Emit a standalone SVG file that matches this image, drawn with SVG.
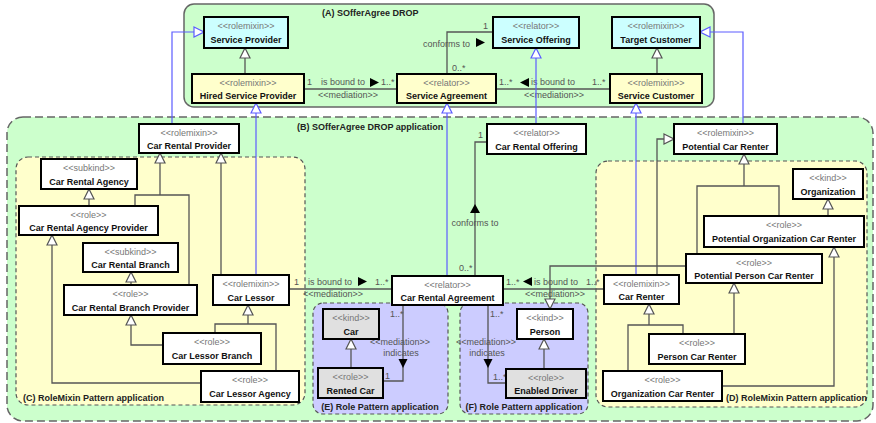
<svg xmlns="http://www.w3.org/2000/svg" width="876" height="423" viewBox="0 0 876 423">
  <style>
    .pkgA { fill: #ccffcc; stroke: #666; stroke-width: 1.5; }
    .pkgB { fill: #ccffcc; stroke: #666; stroke-width: 1.5; stroke-dasharray: 8 4; }
    .pkgY { fill: #ffffcc; stroke: #555; stroke-width: 1.2; stroke-dasharray: 4 3; }
    .pkgP { fill: #ccccff; stroke: #555; stroke-width: 1.2; stroke-dasharray: 4 3; }
    .plabel { font-family: "Liberation Sans", Arial, sans-serif; font-size: 9px; font-weight: bold; fill: #222; }
    .box { stroke: #000; stroke-width: 2; }
    .cyan { fill: #ccffff; }
    .yel { fill: #ffffcc; }
    .wht { fill: #ffffff; }
    .gry { fill: #e0e0e0; }
    .st { font-family: "Liberation Sans", Arial, sans-serif; font-size: 9px; fill: #777; text-anchor: middle; }
    .nm { font-family: "Liberation Sans", Arial, sans-serif; font-size: 9px; font-weight: bold; fill: #111; text-anchor: middle; }
    .ln { fill: none; stroke: #555; stroke-width: 1.3; }
    .bl { fill: none; stroke: #5c5cff; stroke-width: 1.2; }
    .lbl { font-family: "Liberation Sans", Arial, sans-serif; font-size: 9px; fill: #555; }
    .mid { text-anchor: middle; }
    .dir { fill: #000; }
  </style>
  <defs>
    <marker id="gen" viewBox="0 0 12 12" refX="11" refY="6" markerWidth="12" markerHeight="12" markerUnits="userSpaceOnUse" orient="auto">
      <path d="M1,1 L11,6 L1,11 z" fill="#fff" stroke="#555" stroke-width="1.2"/>
    </marker>
    <marker id="genb" viewBox="0 0 12 12" refX="11" refY="6" markerWidth="12" markerHeight="12" markerUnits="userSpaceOnUse" orient="auto">
      <path d="M1,1 L11,6 L1,11 z" fill="#fff" stroke="#5c5cff" stroke-width="1.2"/>
    </marker>
  </defs>

  <!-- packages -->
  <g id="packages">
    <rect class="pkgB" x="7" y="117" width="866" height="304" rx="16"/>
    <rect class="pkgA" x="184" y="4" width="530" height="103" rx="10"/>
    <rect class="pkgY" x="16" y="157" width="289" height="248" rx="12"/>
    <rect class="pkgY" x="596" y="161" width="271" height="246" rx="12"/>
    <rect class="pkgP" x="313" y="303" width="135" height="111" rx="10"/>
    <rect class="pkgP" x="460" y="303" width="128" height="111" rx="10"/>
    <text class="plabel" x="322" y="16">(A) SOfferAgree DROP</text>
    <text class="plabel" x="297" y="130">(B) SOfferAgree DROP application</text>
    <text class="plabel" x="23" y="401">(C) RoleMixin Pattern application</text>
    <text class="plabel" x="726" y="401">(D) RoleMixin Pattern application</text>
    <text class="plabel mid" x="380" y="410" text-anchor="middle">(E) Role Pattern application</text>
    <text class="plabel mid" x="524" y="410" text-anchor="middle">(F) Role Pattern application</text>
  </g>

  <!-- connectors -->
  <g id="connectors">
    <!-- DROP generalizations and associations -->
    <path class="ln" d="M245,74 V48" marker-end="url(#gen)"/>
    <path class="ln" d="M657,74 V48" marker-end="url(#gen)"/>
    <path class="ln" d="M304,89 H397"/>
    <path class="ln" d="M496,89 H610"/>
    <path class="ln" d="M447,74 V32 H493"/>
    <text class="lbl" x="307" y="85">1</text>
    <text class="lbl" x="321" y="85">is bound to</text>
    <polygon class="dir" points="370,78 379,82.5 370,87"/>
    <text class="lbl" x="381" y="85">1..*</text>
    <text class="lbl" x="318" y="98">&lt;&lt;mediation&gt;&gt;</text>
    <text class="lbl" x="499" y="85">1..*</text>
    <polygon class="dir" points="529,78 520,82.5 529,87"/>
    <text class="lbl" x="531" y="85">is bound to</text>
    <text class="lbl" x="592" y="85">1..*</text>
    <text class="lbl" x="524" y="98">&lt;&lt;mediation&gt;&gt;</text>
    <text class="lbl" x="483" y="29">1</text>
    <text class="lbl" x="423" y="47">conforms to</text>
    <polygon class="dir" points="476,38 485,42.5 476,47"/>
    <text class="lbl" x="452" y="71">0..*</text>

    <!-- specializations of the DROP (blue) -->
    <path class="bl" d="M172,124 V32 H204" marker-end="url(#genb)"/>
    <path class="bl" d="M256,275 V103" marker-end="url(#genb)"/>
    <path class="bl" d="M447,276 V103" marker-end="url(#genb)"/>
    <path class="bl" d="M536,124 V48" marker-end="url(#genb)"/>
    <path class="bl" d="M636,275 V103" marker-end="url(#genb)"/>
    <path class="bl" d="M743,124 V32 H700" marker-end="url(#genb)"/>

    <!-- (C) provider side -->
    <path class="ln" d="M89,206 V189" marker-end="url(#gen)"/>
    <path class="ln" d="M135,206 V195 H189 V285"/>
    <path class="ln" d="M160,195 V153" marker-end="url(#gen)"/>
    <path class="ln" d="M131,285 V272" marker-end="url(#gen)"/>
    <path class="ln" d="M221,275 V153" marker-end="url(#gen)"/>
    <path class="ln" d="M163,345 H131 V315" marker-end="url(#gen)"/>
    <path class="ln" d="M215,333 V324 H276 V371"/>
    <path class="ln" d="M248,324 V305" marker-end="url(#gen)"/>
    <path class="ln" d="M201,383 H52 V235" marker-end="url(#gen)"/>

    <!-- Car Lessor to Car Rental Agreement -->
    <path class="ln" d="M289,289 H392"/>
    <text class="lbl" x="294" y="285">1</text>
    <text class="lbl" x="308" y="285">is bound to</text>
    <polygon class="dir" points="358,277 367,281.5 358,286"/>
    <text class="lbl" x="375" y="285">1..*</text>
    <text class="lbl" x="303" y="297">&lt;&lt;mediation&gt;&gt;</text>

    <!-- Car Rental Agreement to Car Renter -->
    <path class="ln" d="M503,289 H604"/>
    <text class="lbl" x="506" y="285">1..*</text>
    <polygon class="dir" points="532,277 523,281.5 532,286"/>
    <text class="lbl" x="534" y="285">is bound to</text>
    <text class="lbl" x="586" y="285">1..*</text>
    <text class="lbl" x="525" y="297">&lt;&lt;mediation&gt;&gt;</text>

    <!-- conforms to -->
    <path class="ln" d="M475,276 V142 H487"/>
    <text class="lbl" x="478" y="138">1</text>
    <polygon class="dir" points="475,204 480,213 470,213"/>
    <text class="lbl mid" x="475" y="226" text-anchor="middle">conforms to</text>
    <text class="lbl" x="459" y="271">0..*</text>

    <!-- (E) -->
    <path class="ln" d="M351,368 V339" marker-end="url(#gen)"/>
    <path class="ln" d="M403,305 V381 H383"/>
    <polygon class="dir" points="398.5,359 407.5,359 403,368"/>
    <text class="lbl" x="390" y="317">1..*</text>
    <text class="lbl" x="385" y="379">1</text>
    <text class="lbl" x="400" y="345" text-anchor="middle">&lt;&lt;mediation&gt;&gt;</text>
    <text class="lbl" x="401" y="356" text-anchor="middle">indicates</text>

    <!-- (F) -->
    <path class="ln" d="M544,369 V339" marker-end="url(#gen)"/>
    <path class="ln" d="M488,305 V383 H506"/>
    <polygon class="dir" points="483.5,359 492.5,359 488,368"/>
    <text class="lbl" x="490" y="317">1..*</text>
    <text class="lbl" x="493" y="380">1..*</text>
    <text class="lbl" x="486" y="345" text-anchor="middle">&lt;&lt;mediation&gt;&gt;</text>
    <text class="lbl" x="487" y="356" text-anchor="middle">indicates</text>

    <!-- (D) renter side -->
    <path class="ln" d="M686,266 H550 V309" marker-end="url(#gen)"/>
    <path class="ln" d="M657,275 V139 H674" marker-end="url(#gen)"/>
    <path class="ln" d="M828,216 V199" marker-end="url(#gen)"/>
    <path class="ln" d="M697,254 V186 H779 V216"/>
    <path class="ln" d="M744,186 V154" marker-end="url(#gen)"/>
    <path class="ln" d="M734,334 V283" marker-end="url(#gen)"/>
    <path class="ln" d="M722,386 H834 V247" marker-end="url(#gen)"/>
    <path class="ln" d="M628,371 V325 H683 V334"/>
    <path class="ln" d="M649,325 V304" marker-end="url(#gen)"/>
  </g>

  <!-- (A) DROP nodes -->
  <g id="service-provider">
    <rect class="box cyan" x="204" y="17" width="84" height="31"/>
    <text class="st" x="246" y="29">&lt;&lt;rolemixin&gt;&gt;</text>
    <text class="nm" x="246" y="43">Service Provider</text>
  </g>
  <g id="service-offering">
    <rect class="box cyan" x="493" y="17" width="86" height="31"/>
    <text class="st" x="536" y="29">&lt;&lt;relator&gt;&gt;</text>
    <text class="nm" x="536" y="43">Service Offering</text>
  </g>
  <g id="target-customer">
    <rect class="box cyan" x="612" y="17" width="88" height="31"/>
    <text class="st" x="656" y="29">&lt;&lt;rolemixin&gt;&gt;</text>
    <text class="nm" x="656" y="43">Target Customer</text>
  </g>
  <g id="hired-service-provider">
    <rect class="box yel" x="192" y="74" width="112" height="29"/>
    <text class="st" x="248" y="86">&lt;&lt;rolemixin&gt;&gt;</text>
    <text class="nm" x="248" y="99">Hired Service Provider</text>
  </g>
  <g id="service-agreement">
    <rect class="box yel" x="397" y="74" width="99" height="29"/>
    <text class="st" x="446.5" y="86">&lt;&lt;relator&gt;&gt;</text>
    <text class="nm" x="446.5" y="99">Service Agreement</text>
  </g>
  <g id="service-customer">
    <rect class="box yel" x="610" y="74" width="92" height="29"/>
    <text class="st" x="656" y="86">&lt;&lt;rolemixin&gt;&gt;</text>
    <text class="nm" x="656" y="99">Service Customer</text>
  </g>

  <!-- (B)/(C) nodes -->
  <g id="car-rental-provider">
    <rect class="box wht" x="139" y="124" width="100" height="29"/>
    <text class="st" x="189" y="136">&lt;&lt;rolemixin&gt;&gt;</text>
    <text class="nm" x="189" y="149">Car Rental Provider</text>
  </g>
  <g id="car-rental-agency">
    <rect class="box wht" x="41" y="159" width="96" height="30"/>
    <text class="st" x="89" y="171">&lt;&lt;subkind&gt;&gt;</text>
    <text class="nm" x="89" y="185">Car Rental Agency</text>
  </g>
  <g id="car-rental-agency-provider">
    <rect class="box wht" x="19" y="206" width="139" height="29"/>
    <text class="st" x="88.5" y="218">&lt;&lt;role&gt;&gt;</text>
    <text class="nm" x="88.5" y="231">Car Rental Agency Provider</text>
  </g>
  <g id="car-rental-branch">
    <rect class="box wht" x="83" y="243" width="95" height="29"/>
    <text class="st" x="130.5" y="255">&lt;&lt;subkind&gt;&gt;</text>
    <text class="nm" x="130.5" y="268">Car Rental Branch</text>
  </g>
  <g id="car-rental-branch-provider">
    <rect class="box wht" x="64" y="285" width="133" height="30"/>
    <text class="st" x="130.5" y="297">&lt;&lt;role&gt;&gt;</text>
    <text class="nm" x="130.5" y="311">Car Rental Branch Provider</text>
  </g>
  <g id="car-lessor">
    <rect class="box wht" x="213" y="275" width="76" height="30"/>
    <text class="st" x="251" y="287">&lt;&lt;rolemixin&gt;&gt;</text>
    <text class="nm" x="251" y="301">Car Lessor</text>
  </g>
  <g id="car-lessor-branch">
    <rect class="box wht" x="163" y="333" width="98" height="31"/>
    <text class="st" x="212" y="345">&lt;&lt;role&gt;&gt;</text>
    <text class="nm" x="212" y="359">Car Lessor Branch</text>
  </g>
  <g id="car-lessor-agency">
    <rect class="box wht" x="201" y="371" width="98" height="31"/>
    <text class="st" x="250" y="383">&lt;&lt;role&gt;&gt;</text>
    <text class="nm" x="250" y="397">Car Lessor Agency</text>
  </g>

  <!-- (B) relators -->
  <g id="car-rental-offering">
    <rect class="box wht" x="487" y="124" width="99" height="30"/>
    <text class="st" x="536.5" y="136">&lt;&lt;relator&gt;&gt;</text>
    <text class="nm" x="536.5" y="150">Car Rental Offering</text>
  </g>
  <g id="car-rental-agreement">
    <rect class="box wht" x="392" y="276" width="111" height="29"/>
    <text class="st" x="447.5" y="288">&lt;&lt;relator&gt;&gt;</text>
    <text class="nm" x="447.5" y="301">Car Rental Agreement</text>
  </g>

  <!-- (E) nodes -->
  <g id="car">
    <rect class="box gry" x="323" y="309" width="56" height="30"/>
    <text class="st" x="351" y="321">&lt;&lt;kind&gt;&gt;</text>
    <text class="nm" x="351" y="335">Car</text>
  </g>
  <g id="rented-car">
    <rect class="box gry" x="318" y="368" width="65" height="30"/>
    <text class="st" x="350.5" y="380">&lt;&lt;role&gt;&gt;</text>
    <text class="nm" x="350.5" y="394">Rented Car</text>
  </g>

  <!-- (F) nodes -->
  <g id="person">
    <rect class="box wht" x="517" y="309" width="56" height="30"/>
    <text class="st" x="545" y="321">&lt;&lt;kind&gt;&gt;</text>
    <text class="nm" x="545" y="335">Person</text>
  </g>
  <g id="enabled-driver">
    <rect class="box gry" x="506" y="369" width="80" height="29"/>
    <text class="st" x="546" y="381">&lt;&lt;role&gt;&gt;</text>
    <text class="nm" x="546" y="394">Enabled Driver</text>
  </g>

  <!-- (B)/(D) nodes -->
  <g id="potential-car-renter">
    <rect class="box wht" x="674" y="124" width="103" height="30"/>
    <text class="st" x="725.5" y="136">&lt;&lt;rolemixin&gt;&gt;</text>
    <text class="nm" x="725.5" y="150">Potential Car Renter</text>
  </g>
  <g id="organization">
    <rect class="box wht" x="793" y="169" width="70" height="30"/>
    <text class="st" x="828" y="181">&lt;&lt;kind&gt;&gt;</text>
    <text class="nm" x="828" y="195">Organization</text>
  </g>
  <g id="potential-organization-car-renter">
    <rect class="box wht" x="704" y="216" width="160" height="31"/>
    <text class="st" x="784" y="228">&lt;&lt;role&gt;&gt;</text>
    <text class="nm" x="784" y="242">Potential Organization Car Renter</text>
  </g>
  <g id="potential-person-car-renter">
    <rect class="box wht" x="686" y="254" width="136" height="29"/>
    <text class="st" x="754" y="266">&lt;&lt;role&gt;&gt;</text>
    <text class="nm" x="754" y="279">Potential Person Car Renter</text>
  </g>
  <g id="car-renter">
    <rect class="box wht" x="604" y="275" width="75" height="29"/>
    <text class="st" x="641.5" y="287">&lt;&lt;rolemixin&gt;&gt;</text>
    <text class="nm" x="641.5" y="300">Car Renter</text>
  </g>
  <g id="person-car-renter">
    <rect class="box wht" x="649" y="334" width="96" height="30"/>
    <text class="st" x="697" y="346">&lt;&lt;role&gt;&gt;</text>
    <text class="nm" x="697" y="360">Person Car Renter</text>
  </g>
  <g id="organization-car-renter">
    <rect class="box wht" x="603" y="371" width="119" height="30"/>
    <text class="st" x="662.5" y="383">&lt;&lt;role&gt;&gt;</text>
    <text class="nm" x="662.5" y="397">Organization Car Renter</text>
  </g>
</svg>
